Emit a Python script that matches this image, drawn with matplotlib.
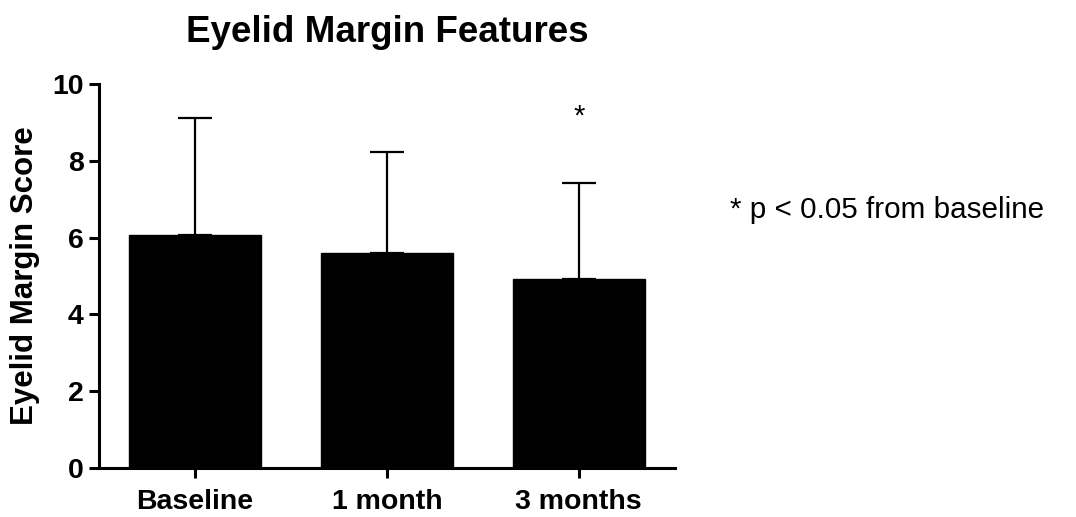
import matplotlib
matplotlib.use("Agg")
import matplotlib.pyplot as plt
import numpy as np

categories = ["Baseline", "1 month", "3 months"]
means = [6.08, 5.6, 4.92]
sd_upper = [3.03, 2.64, 2.51]
significant = [False, False, True]

plt.rcParams['font.family'] = ['Liberation Sans', 'DejaVu Sans']

fig = plt.figure(figsize=(10.76, 5.17), dpi=100)
ax = fig.add_axes([0.092, 0.0948, 0.535, 0.7427])

x = np.arange(len(categories))
ax.bar(x, means, width=0.69, color='black', edgecolor='black', zorder=2)
ax.errorbar(x, means, yerr=[np.zeros(len(means)), sd_upper], fmt='none',
            ecolor='black', elinewidth=1.6, capsize=12, capthick=1.6, zorder=1)

for xi, m, s, sig in zip(x, means, sd_upper, significant):
    if sig:
        ax.text(xi, 8.8, '*', ha='center', va='bottom', fontsize=21, color='black')

ax.set_xlim(-0.5, 2.5)
ax.set_ylim(0, 10)
ax.set_yticks([0, 2, 4, 6, 8, 10])
ax.set_xticks(x)
ax.set_xticklabels(categories, fontsize=20.5, fontweight='bold')
for lab in ax.get_yticklabels():
    lab.set_fontsize(20.5)
    lab.set_fontweight('bold')
ax.set_ylabel('Eyelid Margin Score', fontsize=22.5, fontweight='bold')
ax.yaxis.set_label_coords(-0.102, 0.5)
fig.text(0.3595, 0.937, 'Eyelid Margin Features', fontsize=26.5, fontweight='bold',
         ha='center', va='center')

for side in ['top', 'right']:
    ax.spines[side].set_visible(False)
for side in ['left', 'bottom']:
    ax.spines[side].set_linewidth(2.2)
ax.tick_params(axis='y', direction='out', length=7, width=2.2, pad=4)
ax.tick_params(axis='x', direction='out', length=7, width=2.2, pad=8)

fig.text(0.678, 0.594, '* p < 0.05 from baseline', fontsize=21.3, ha='left', va='center')

fig.savefig('out.png', dpi=100)
